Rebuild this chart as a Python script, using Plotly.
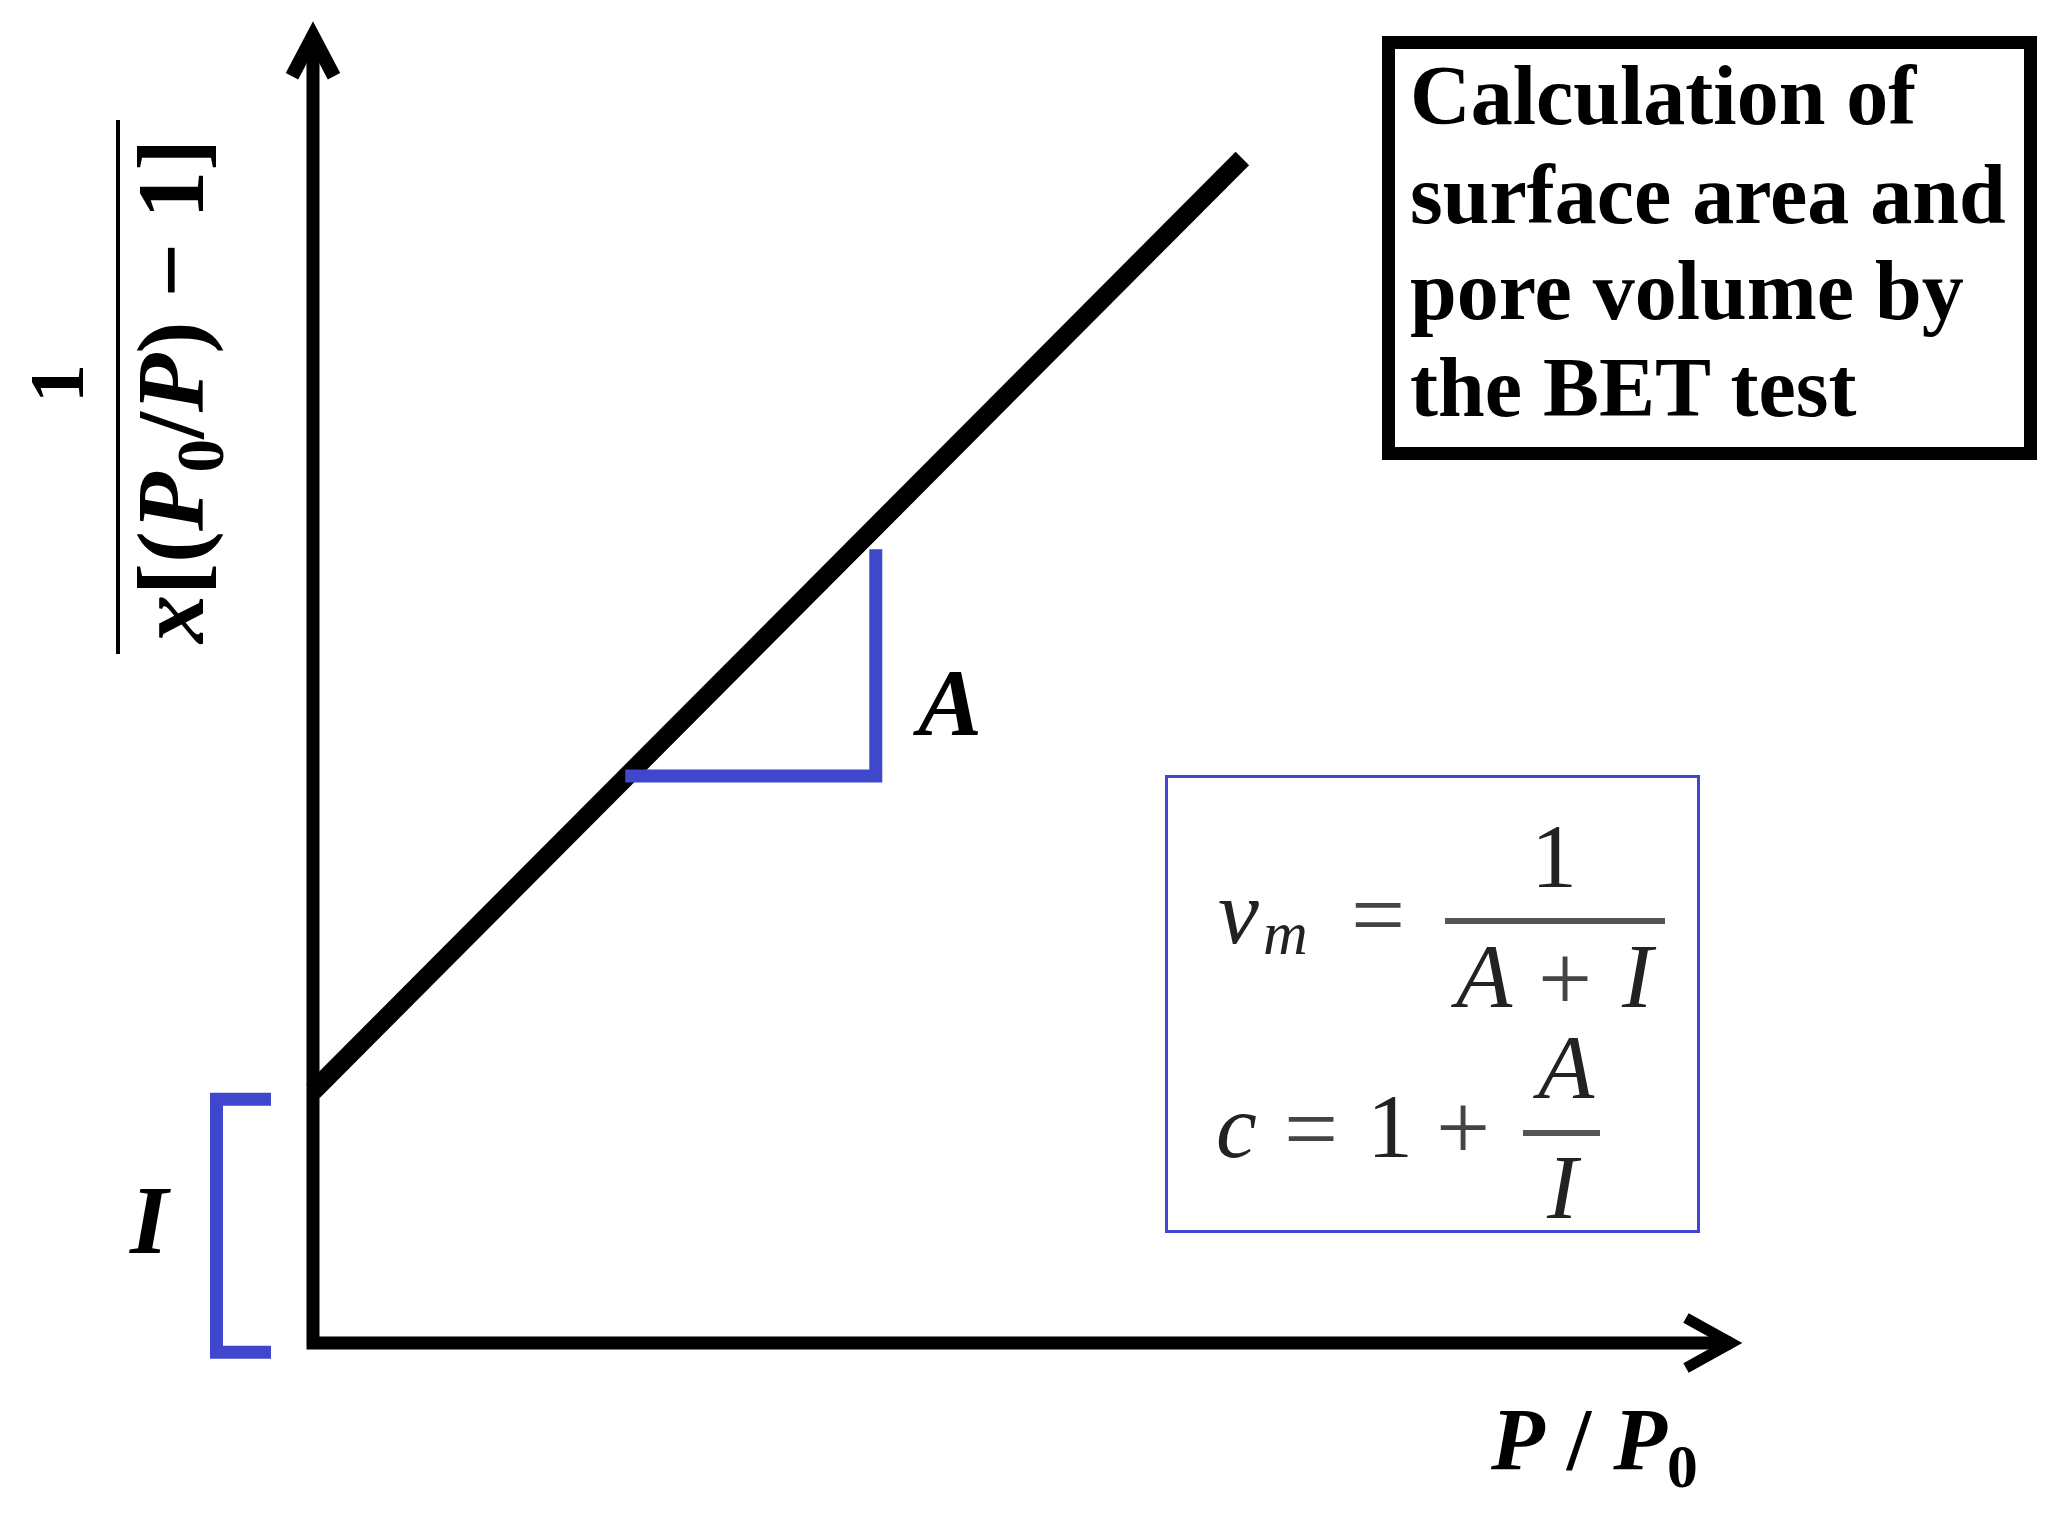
import plotly.graph_objects as go

# BET plot in axis units, origin at the corner of the two arrows
p_ratio = [0.0, 0.649]            # P/P0 at both ends of the straight line
bet_term = [0.190, 0.894]         # 1 / (x[(P0/P) - 1]) at those points
slope_run = [0.218, 0.393]        # horizontal leg of the slope triangle (A)
slope_rise = [0.428, 0.599]       # vertical leg of the slope triangle
intercept_span = [-0.007, 0.184]  # bracket marking the intercept (I)
axis_end = [1.0, 0.996]           # arrow tips: x axis, y axis

title_lines = ["Calculation of", "surface area and", "pore volume by", "the BET test"]

W, H = 2053, 1513
PAD = 8                # default page margin around the plot
OX, OY = 313, 1343     # pixel position of the origin on the page
UX, UY = 1432, 1325    # pixels per axis unit
BLUE = "#3F48CC"
SERIF = "Liberation Serif"


def px(x):
    return (x - OX) / UX


def py(y):
    return (OY - y) / UY


fig = go.Figure()

# the BET line
fig.add_trace(go.Scatter(x=p_ratio, y=bet_term, mode="lines",
                         line=dict(color="black", width=19),
                         hoverinfo="skip", showlegend=False))

# axes with open arrow heads
xt, yt = axis_end
xv, xw, dyw = xt - 14 / UX, xt - 59 / UX, 25 / UY
yv, yw, dxw = yt - 13 / UY, yt - 53 / UY, 21 / UX
shapes = [
    dict(type="path", path=f"M 0,{yv} L 0,0 L {xv},0",
         line=dict(color="black", width=13)),
    dict(type="path", path=f"M {xw},{dyw} L {xv},0 L {xw},{-dyw}",
         line=dict(color="black", width=11)),
    dict(type="path", path=f"M {-dxw},{yw} L 0,{yv} L {dxw},{yw}",
         line=dict(color="black", width=14)),
]

# slope triangle and intercept bracket
shapes.append(dict(type="path",
                   path=f"M {slope_run[0]},{slope_rise[0]} L {slope_run[1]},{slope_rise[0]} "
                        f"L {slope_run[1]},{slope_rise[1]}",
                   line=dict(color=BLUE, width=13)))
bx0, bx1 = px(216.5), px(271)
shapes.append(dict(type="path",
                   path=f"M {bx1},{intercept_span[1]} L {bx0},{intercept_span[1]} "
                        f"L {bx0},{intercept_span[0]} L {bx1},{intercept_span[0]}",
                   line=dict(color=BLUE, width=13)))

# title box and formula box
shapes.append(dict(type="rect", x0=px(1388.5), x1=px(2030.5), y0=py(42.5), y1=py(453.5),
                   line=dict(color="black", width=13)))
shapes.append(dict(type="rect", x0=px(1166.5), x1=px(1698.5), y0=py(776.5), y1=py(1231.5),
                   line=dict(color=BLUE, width=3)))

# fraction bars (y label and formulas)
for x0, x1, y0, y1, c, w in [(118, 118, 120, 654, "black", 4),
                             (1445, 1665, 921, 921, "#555555", 6),
                             (1523, 1600, 1133, 1133, "#555555", 6)]:
    shapes.append(dict(type="line", x0=px(x0), x1=px(x1), y0=py(y0), y1=py(y1),
                       line=dict(color=c, width=w)))

annotations = []


def ann(text, x, y, size, weight="normal", style="normal", color="black",
        angle=0, xanchor="center"):
    annotations.append(dict(text=text, x=px(x), y=py(y), xref="x", yref="y",
                            showarrow=False, textangle=angle,
                            xanchor=xanchor, yanchor="middle",
                            font=dict(family=SERIF, size=size, color=color,
                                      weight=weight, style=style)))


# title box text
for i, line in enumerate(title_lines):
    ann(line, 1408, [95, 194, 290, 387][i], 84, weight="bold", xanchor="left")

# axis labels
ann("1", 56, 384, 78, weight="bold", angle=-90)
ann("<i>x</i>[(<i>P</i><sub>0</sub>/<i>P</i>) − 1]", 177, 392, 96, weight="bold", angle=-90)
ann("<i>P</i> / <i>P</i><sub>0</sub>", 1488, 1445, 88, weight="bold", xanchor="left")
ann("I", 150, 1220, 98, weight="bold", style="italic")
ann("A", 947, 702, 96, weight="bold", style="italic")

# formulas
TXT = "#222222"
OPS = "#444444"
ann("v", 1238, 912, 92, style="italic", color=TXT)
ann("m", 1285, 933, 62, style="italic", color=TXT)
ann("=", 1378, 914, 96, color=OPS)
ann("1", 1554, 856, 92, color=TXT)
ann("A", 1481, 976, 92, style="italic", color=TXT)
ann("+", 1565, 977, 96, color=OPS)
ann("I", 1639, 976, 92, style="italic", color=TXT)
ann("c", 1236, 1126, 92, style="italic", color=TXT)
ann("=", 1311, 1128, 96, color=OPS)
ann("1", 1390, 1126, 92, color=TXT)
ann("+", 1463, 1126, 96, color=OPS)
ann("A", 1563, 1067, 92, style="italic", color=TXT)
ann("I", 1564, 1187, 92, style="italic", color=TXT)

# the page keeps its default margin, so the plot starts PAD pixels in
fig.update_layout(
    width=W - PAD, height=H - PAD,
    margin=dict(l=0, r=0, t=0, b=0),
    paper_bgcolor="white", plot_bgcolor="white",
    showlegend=False,
    xaxis=dict(range=[px(PAD), px(W)], visible=False, fixedrange=True),
    yaxis=dict(range=[py(H), py(PAD)], visible=False, fixedrange=True),
    shapes=shapes,
    annotations=annotations,
)

fig.write_html("out.html")
